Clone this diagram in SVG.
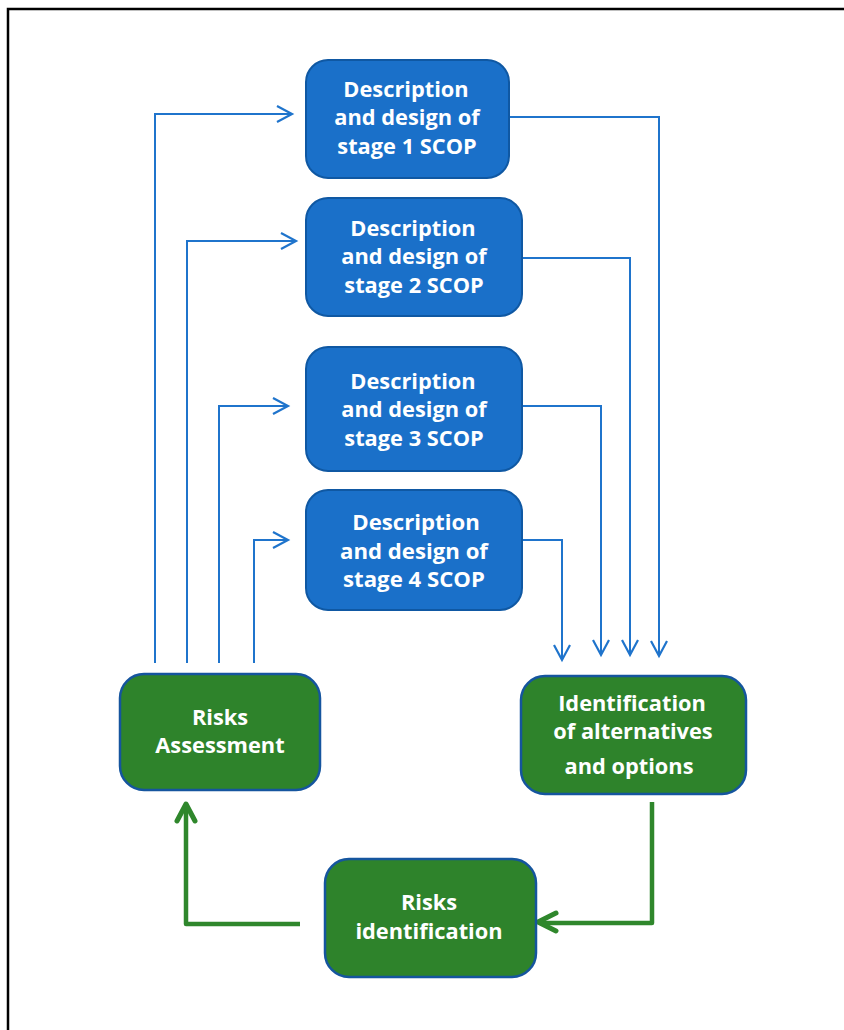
<svg xmlns="http://www.w3.org/2000/svg" width="844" height="1030" viewBox="0 0 844 1030">
<defs>
<style>
.blue{fill:#1a70c9;stroke:#0f58a3;stroke-width:2}
.green{fill:#2e832b;stroke:#15559e;stroke-width:2.5}
.t{font-family:"Open Sans","Liberation Sans",sans-serif;font-weight:bold;font-size:21.8px;fill:#ffffff;text-anchor:middle}
.bl{fill:none;stroke:#1f74cc;stroke-width:2}
.gl{fill:none;stroke:#2f872c;stroke-width:4.5;stroke-linejoin:round}
.ba{fill:none;stroke:#1f74cc;stroke-width:2.2}
.ga{fill:none;stroke:#2f872c;stroke-width:5;stroke-linecap:round;stroke-linejoin:round}
</style>
</defs>
<rect width="844" height="1030" fill="#ffffff"/>
<path d="M8,1030 V9 H844" fill="none" stroke="#000" stroke-width="2.5"/>

<g id="connectors">
<path class="bl" d="M155,663 V114 H291"/>
<path class="ba" d="M277,106 L292,114 L277,122"/>
<path class="bl" d="M187,663 V241 H295"/>
<path class="ba" d="M281,233 L296,241 L281,249"/>
<path class="bl" d="M219,663 V406 H287"/>
<path class="ba" d="M273,398 L288,406 L273,414"/>
<path class="bl" d="M254,663 V540 H287"/>
<path class="ba" d="M273,532 L288,540 L273,548"/>

<path class="bl" d="M509,117 H659 V655"/>
<path class="ba" d="M651,641 L659,656 L667,641"/>
<path class="bl" d="M522,258 H630 V654"/>
<path class="ba" d="M622,640 L630,655 L638,640"/>
<path class="bl" d="M522,406 H601 V654"/>
<path class="ba" d="M593,640 L601,655 L609,640"/>
<path class="bl" d="M522,540 H562 V659"/>
<path class="ba" d="M554,645 L562,660 L570,645"/>

<path class="gl" d="M652,802 V923 H540"/>
<path class="ga" d="M556,913 L538,922 L556,931"/>
<path class="gl" d="M300,924 H186 V806"/>
<path class="ga" d="M177,821 L186,804 L195,821"/>
</g>

<g id="stage1">
<rect class="blue" x="306" y="60" width="203" height="118" rx="22"/>
<text class="t" x="406" y="97">Description</text>
<text class="t" x="407" y="125">and design of</text>
<text class="t" x="407" y="154">stage 1 SCOP</text>
</g>
<g id="stage2">
<rect class="blue" x="306" y="198" width="216" height="118" rx="22"/>
<text class="t" x="413" y="236">Description</text>
<text class="t" x="414" y="264">and design of</text>
<text class="t" x="414" y="293">stage 2 SCOP</text>
</g>
<g id="stage3">
<rect class="blue" x="306" y="347" width="216" height="124" rx="22"/>
<text class="t" x="413" y="389">Description</text>
<text class="t" x="414" y="417">and design of</text>
<text class="t" x="414" y="446">stage 3 SCOP</text>
</g>
<g id="stage4">
<rect class="blue" x="306" y="490" width="216" height="120" rx="22"/>
<text class="t" x="416" y="530" style="font-size:22.2px">Description</text>
<text class="t" x="414" y="558.5" style="font-size:22.2px">and design of</text>
<text class="t" x="414" y="587" style="font-size:22.2px">stage 4 SCOP</text>
</g>
<g id="risks-assessment">
<rect class="green" x="120" y="674" width="200" height="116" rx="24"/>
<text class="t" x="220" y="725">Risks</text>
<text class="t" x="220" y="753">Assessment</text>
</g>
<g id="identification-alternatives">
<rect class="green" x="521" y="676" width="225" height="118" rx="24"/>
<text class="t" x="632" y="711">Identification</text>
<text class="t" x="633" y="739">of alternatives</text>
<text class="t" x="629" y="774">and options</text>
</g>
<g id="risks-identification">
<rect class="green" x="325" y="859" width="211" height="118" rx="24"/>
<text class="t" x="429" y="910">Risks</text>
<text class="t" x="429" y="939">identification</text>
</g>
</svg>
